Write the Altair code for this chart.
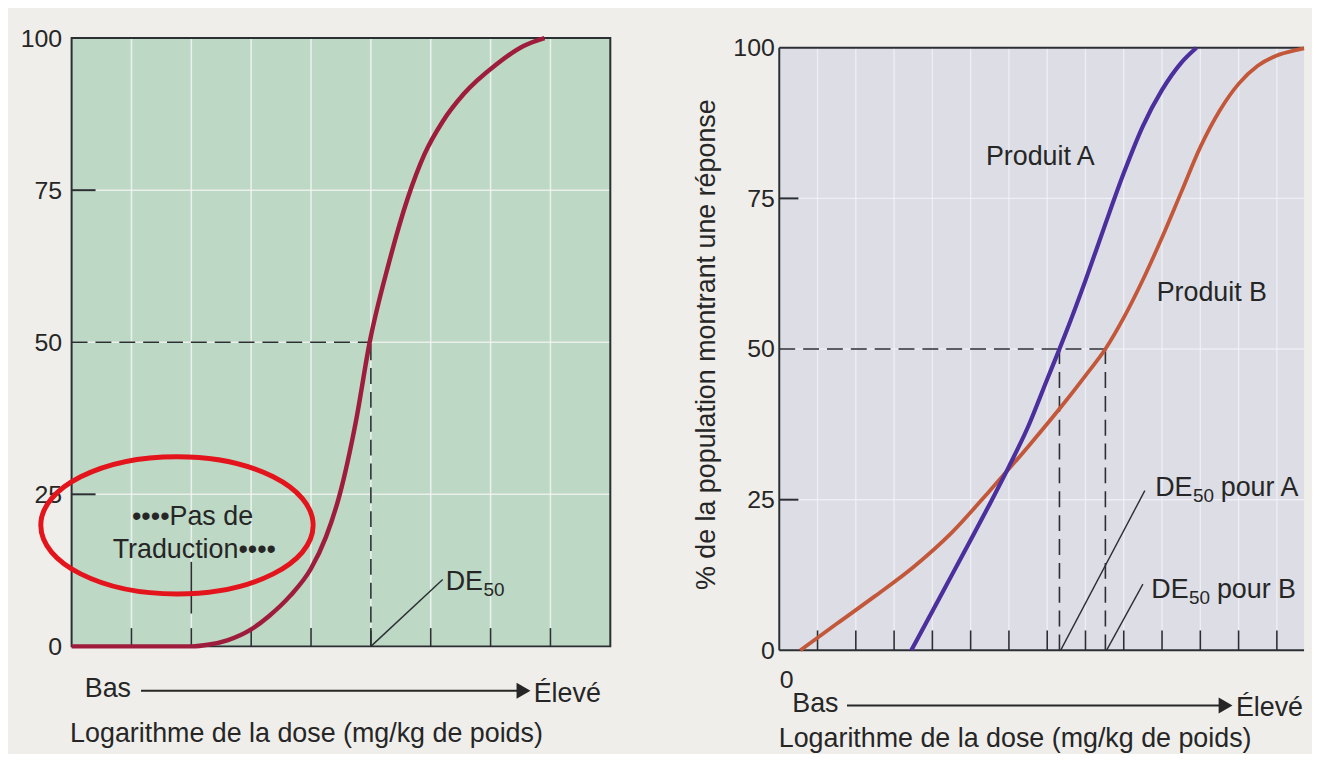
import altair as alt
import pandas as pd

FONT = "Liberation Sans"
INK = "#262626"
BORDER = "#2b2f33"
FS = 27

# ---------------- data : left panel ----------------
left_dose = [0, 1, 2, 2.3, 2.6, 3.0, 3.3, 3.65, 4.0, 4.25, 4.48, 4.75, 4.98, 5.3, 5.61, 5.9, 6.2, 6.55, 7.1, 7.55, 7.9]
left_resp = [0, 0, 0, 0.3, 1.0, 2.8, 5, 8.3, 12.8, 18, 25, 37, 50, 63, 73.5, 81, 86.3, 90.8, 95.7, 98.7, 100]
left_ticks = [1, 2, 3, 4, 5, 6, 7, 8]
left_ed50 = 5.0

# ---------------- data : right panel ----------------
a_dose = [3.45, 4.0, 4.5, 5.0, 5.5, 6.0, 6.5, 7.0, 7.32, 7.5, 8.0, 8.5, 9.0, 9.5, 10.0, 10.5, 10.9]
a_resp = [0, 6.5, 12.4, 18.3, 24.3, 30.5, 37.1, 45.0, 50, 52.9, 61.4, 70.4, 79.2, 87, 93, 97.5, 100]
b_dose = [0.55, 1.5, 2.5, 3.5, 4.5, 5.5, 6.5, 7.5, 8.0, 8.52, 9.0, 9.5, 10.0, 10.5, 11.0, 11.5, 12.0, 12.5, 13.0, 13.5, 13.71]
b_resp = [0, 4.4, 9.0, 13.8, 19.5, 26.5, 33.8, 41.5, 45.6, 50, 55.2, 61.5, 68.5, 76, 83.5, 89.5, 94, 97, 98.7, 99.6, 99.9]
right_ticks = list(range(1, 14))
ed50_a = 7.32
ed50_b = 8.52

y_ticks = [0, 25, 50, 75, 100]
grid_y = [25, 50, 75]

# ---------------- helpers ----------------
def segs(rows):
    return pd.DataFrame(rows, columns=["x", "y", "x2", "y2"])

def pts(xs, ys, **extra):
    d = {"x": xs, "y": ys}
    d.update(extra)
    return pd.DataFrame(d)

def txt(**kw):
    base = dict(align="left", baseline="middle", font=FONT, fontSize=FS, color=INK)
    base.update(kw)
    return base

# ================= LEFT PANEL =================
LXS = alt.Scale(domain=[0, 9], nice=False, zero=False)
LYS = alt.Scale(domain=[0, 100], nice=False)
LXA = alt.Axis(labels=False, ticks=False, domain=False, grid=False,
               title="Logarithme de la dose (mg/kg de poids)",
               titleX=-2, titleY=88, titleAlign="left", titleBaseline="middle",
               titleFontSize=FS, titleFontWeight="normal", titleFont=FONT, titleColor=INK)
LYA = alt.Axis(values=y_ticks, labelFontSize=25, labelPadding=10, labelColor=INK,
               labelFont=FONT, ticks=False, domain=False, grid=False, title=None)

def lx(f="x"):
    return alt.X(f"{f}:Q", scale=LXS, axis=LXA)

def ly(f="y"):
    return alt.Y(f"{f}:Q", scale=LYS, axis=LYA)

def lrule(df, **kw):
    return alt.Chart(df).mark_rule(**kw).encode(x=lx(), x2="x2:Q", y=ly(), y2="y2:Q")

l_bg = alt.Chart(segs([[0, 0, 9, 100]])).mark_rect(fill="#bdd8c4").encode(
    x=lx(), x2="x2:Q", y=ly(), y2="y2:Q")
l_grid_v = lrule(segs([[t, 0, t, 100] for t in left_ticks]), color="#f2f5f2", strokeWidth=1.6, opacity=0.85)
l_grid_h = lrule(segs([[0, g, 9, g] for g in grid_y]), color="#f2f5f2", strokeWidth=1.6, opacity=0.85)
l_border = alt.Chart(segs([[0, 0, 9, 100]])).mark_rect(fill=None, stroke=BORDER, strokeWidth=2).encode(
    x=lx(), x2="x2:Q", y=ly(), y2="y2:Q")
l_xticks = lrule(segs([[t, 0, t, 3] for t in left_ticks]), color=BORDER, strokeWidth=1.6)
l_yticks = lrule(segs([[0, g, 0.4, g] for g in [25, 75]]), color=BORDER, strokeWidth=2)
l_pointer = lrule(segs([[2, 5.4, 2, 13.9]]), color=BORDER, strokeWidth=1.6)
l_dash = lrule(segs([[0, 50, left_ed50, 50], [left_ed50, 0, left_ed50, 50]]),
               color=BORDER, strokeWidth=1.6, strokeDash=[16, 8])
l_curve = alt.Chart(pts(left_dose, left_resp)).mark_line(
    interpolate="monotone", color="#9e1d3d", strokeWidth=4.5).encode(x=lx(), y=ly())
l_leader = lrule(segs([[left_ed50, 0, 6.2, 11]]), color=BORDER, strokeWidth=1.4)

l_de = alt.Chart(pts([6.25], [10.6])).mark_text(**txt(text="DE")).encode(x=lx(), y=ly())
l_de_sub = alt.Chart(pts([6.25], [10.6])).mark_text(
    **txt(text="50", fontSize=19, dx=38, dy=8)).encode(x=lx(), y=ly())

l_notes = alt.Chart(pts([2.02, 2.05], [21.3, 15.9], t=["••••Pas de", "Traduction••••"])).mark_text(
    **txt(align="center")).encode(x=lx(), y=ly(), text="t:N")

ELLIPSE = "M -1 0 A 1 0.504 0 1 1 1 0 A 1 0.504 0 1 1 -1 0 Z"
l_ellipse = alt.Chart(pts([1.76], [19.9])).mark_point(
    shape=ELLIPSE, size=75076, filled=False, color="#e3141c", strokeWidth=5, opacity=1).encode(x=lx(), y=ly())

l_bas = alt.Chart(pts([0.22], [-6.95])).mark_text(**txt(text="Bas")).encode(x=lx(), y=ly())
l_arrow = lrule(segs([[1.16, -7.3, 7.45, -7.3]]), color=INK, strokeWidth=2)
l_head = alt.Chart(pts([7.55], [-7.3])).mark_point(
    shape="triangle-right", size=260, filled=True, color=INK, opacity=1).encode(x=lx(), y=ly())
l_eleve = alt.Chart(pts([7.72], [-7.8])).mark_text(**txt(text="Élevé")).encode(x=lx(), y=ly())

left = alt.layer(
    l_bg, l_grid_v, l_grid_h, l_border, l_xticks, l_yticks, l_pointer, l_dash,
    l_curve, l_leader, l_de, l_de_sub, l_notes, l_ellipse, l_bas, l_arrow, l_head, l_eleve
).properties(width=542, height=612)

# ================= RIGHT PANEL =================
RX_MAX = 13.71
RXS = alt.Scale(domain=[0, RX_MAX], nice=False, zero=False)
RYS = alt.Scale(domain=[0, 101.6], nice=False)
RXA = alt.Axis(values=[0], labelFontSize=25, labelPadding=17, labelColor=INK, labelFont=FONT,
               ticks=False, domain=False, grid=False,
               title="Logarithme de la dose (mg/kg de poids)",
               titleX=-1, titleY=89, titleAlign="left", titleBaseline="middle",
               titleFontSize=FS, titleFontWeight="normal", titleFont=FONT, titleColor=INK)
RYA = alt.Axis(values=y_ticks, labelFontSize=25, labelPadding=5, labelColor=INK, labelFont=FONT,
               ticks=False, domain=False, grid=False,
               title="% de la population montrant une réponse",
               titleFontSize=FS, titleFontWeight="normal", titleFont=FONT, titleColor=INK,
               titlePadding=12)

def rx(f="x"):
    return alt.X(f"{f}:Q", scale=RXS, axis=RXA)

def ry(f="y"):
    return alt.Y(f"{f}:Q", scale=RYS, axis=RYA)

def rrule(df, **kw):
    return alt.Chart(df).mark_rule(**kw).encode(x=rx(), x2="x2:Q", y=ry(), y2="y2:Q")

r_bg = alt.Chart(segs([[0, 0, RX_MAX, 100]])).mark_rect(fill="#dcdde5").encode(
    x=rx(), x2="x2:Q", y=ry(), y2="y2:Q")
r_grid_v = rrule(segs([[t, 0, t, 100] for t in right_ticks]), color="#f3f3f7", strokeWidth=1.4, opacity=0.8)
r_grid_h = rrule(segs([[0, g, RX_MAX, g] for g in grid_y]), color="#f3f3f7", strokeWidth=1.4, opacity=0.8)
r_border = rrule(segs([[0, 0, 0, 100], [0, 100, RX_MAX, 100], [0, 0, RX_MAX, 0]]),
                 color=BORDER, strokeWidth=2)
r_xticks = rrule(segs([[t, 0, t, 3.3] for t in right_ticks]), color=BORDER, strokeWidth=1.6)
r_yticks = rrule(segs([[0, g, 0.5, g] for g in [25, 75]]), color=BORDER, strokeWidth=2)
r_dash = rrule(segs([[0, 50, ed50_b, 50], [ed50_a, 0, ed50_a, 50], [ed50_b, 0, ed50_b, 50]]),
               color=BORDER, strokeWidth=1.6, strokeDash=[16, 8])
r_b = alt.Chart(pts(b_dose, b_resp)).mark_line(
    interpolate="monotone", color="#c2573a", strokeWidth=3.8).encode(x=rx(), y=ry())
r_a = alt.Chart(pts(a_dose, a_resp)).mark_line(
    interpolate="monotone", color="#4b2f9c", strokeWidth=4.2).encode(x=rx(), y=ry())
r_leaders = rrule(segs([[ed50_a + 0.03, 0, 9.55, 26.5], [ed50_b + 0.03, 0, 9.5, 11.0]]),
                  color=BORDER, strokeWidth=1.4)

r_names = alt.Chart(pts([6.82, 11.3], [81.9, 59.3], t=["Produit A", "Produit B"])).mark_text(
    **txt(align="center")).encode(x=rx(), y=ry(), text="t:N")

de_xy = pts([9.82, 9.72], [27.0, 10.0], t=["pour A", "pour B"])
r_de = alt.Chart(de_xy).mark_text(**txt(text="DE")).encode(x=rx(), y=ry())
r_de_sub = alt.Chart(de_xy).mark_text(
    **txt(text="50", fontSize=19, dx=38, dy=8)).encode(x=rx(), y=ry())
r_de_rest = alt.Chart(de_xy).mark_text(**txt(dx=66)).encode(x=rx(), y=ry(), text="t:N")

r_bas = alt.Chart(pts([0.34], [-8.85])).mark_text(**txt(text="Bas")).encode(x=rx(), y=ry())
r_arrow = rrule(segs([[1.77, -9.15, 11.55, -9.15]]), color=INK, strokeWidth=2)
r_head = alt.Chart(pts([11.66], [-9.15])).mark_point(
    shape="triangle-right", size=260, filled=True, color=INK, opacity=1).encode(x=rx(), y=ry())
r_eleve = alt.Chart(pts([11.93], [-9.6])).mark_text(**txt(text="Élevé")).encode(x=rx(), y=ry())

right = alt.layer(
    r_bg, r_grid_v, r_grid_h, r_border, r_xticks, r_yticks, r_dash, r_b, r_a, r_leaders,
    r_names, r_de, r_de_sub, r_de_rest, r_bas, r_arrow, r_head, r_eleve
).properties(width=528, height=616)

chart = alt.hconcat(left, right, spacing=170, bounds="flush").configure(
    background="#efeeea",
    padding={"left": 12, "top": 16, "right": 0, "bottom": 0},
).configure_view(stroke=None)

chart.save("out.html", embed_options={"renderer": "svg", "actions": False})
